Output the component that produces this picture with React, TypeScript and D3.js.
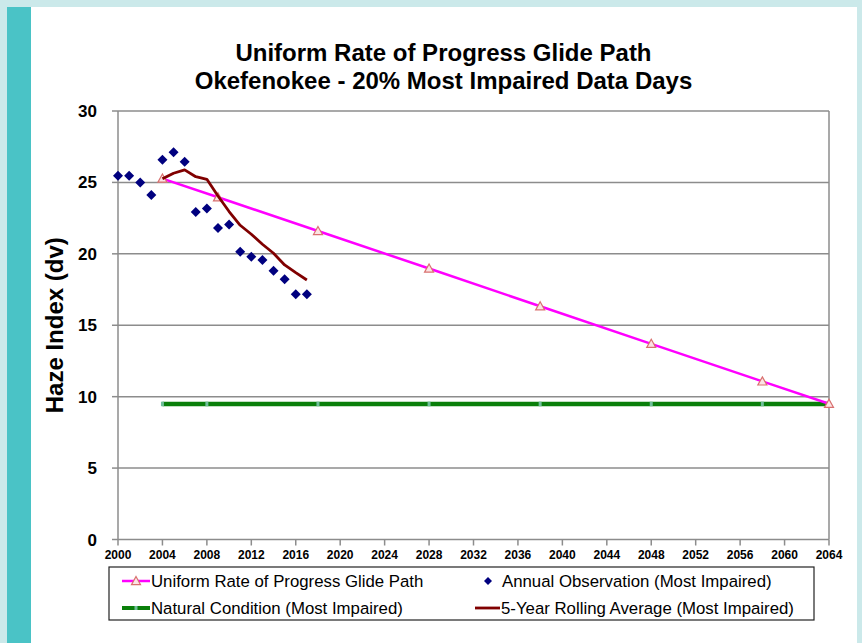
import React from "react";
import * as d3 from "d3";

const titleLines = ["Uniform Rate of Progress Glide Path", "Okefenokee - 20% Most Impaired Data Days"];
const yAxisLabel = "Haze Index (dv)";

const xTickLabels = [2000, 2004, 2008, 2012, 2016, 2020, 2024, 2028, 2032, 2036, 2040, 2044, 2048, 2052, 2056, 2060, 2064];
const yTickLabels = [0, 5, 10, 15, 20, 25, 30];

const obsYears = [2000, 2001, 2002, 2003, 2004, 2005, 2006, 2007, 2008, 2009, 2010, 2011, 2012, 2013, 2014, 2015, 2016, 2017];
const obsValues = [25.46, 25.46, 24.99, 24.12, 26.58, 27.12, 26.44, 22.93, 23.17, 21.81, 22.05, 20.15, 19.8, 19.57, 18.82, 18.22, 17.17, 17.17];

const rollYears = [2004, 2005, 2006, 2007, 2008, 2009, 2010, 2011, 2012, 2013, 2014, 2015, 2016, 2017];
const rollValues = [25.25, 25.64, 25.88, 25.4, 25.22, 24.05, 22.96, 22.0, 21.37, 20.67, 20.04, 19.22, 18.68, 18.17];

const glideYears = [2004, 2009, 2018, 2028, 2038, 2048, 2058, 2064];
const glideValues = [25.27, 23.96, 21.6, 18.97, 16.33, 13.7, 11.07, 9.5];

const naturalYears = [2004, 2008, 2018, 2028, 2038, 2048, 2058, 2064];
const naturalValues = [9.49, 9.49, 9.49, 9.49, 9.49, 9.49, 9.49, 9.49];

const legendLabels = [
  "Uniform Rate of Progress Glide Path",
  "Annual Observation (Most Impaired)",
  "Natural Condition (Most Impaired)",
  "5-Year Rolling Average (Most Impaired)",
];

const W = 862;
const H = 643;
const plot = { left: 118, right: 829, top: 111, bottom: 539.5 };

const FONT = "'Liberation Sans', Arial, sans-serif";
const MAGENTA = "#ff00ff";
const TRI = "#d9706f";
const NAVY = "#00007f";
const DARKRED = "#800000";
const GREEN = "#0a7f0a";
const GRID = "#8c8c8c";

function Triangle({ x, y }: { x: number; y: number }) {
  const s = 4.5;
  return (
    <path
      d={`M${x},${y - s} L${x + s},${y + s * 0.8} L${x - s},${y + s * 0.8} Z`}
      fill="#fbe4e4"
      stroke={TRI}
      strokeWidth={1.2}
    />
  );
}

function Diamond({ x, y, s = 5 }: { x: number; y: number; s?: number }) {
  return <path d={`M${x},${y - s} L${x + s},${y} L${x},${y + s} L${x - s},${y} Z`} fill={NAVY} />;
}

export default function App() {
  const x = d3.scaleLinear().domain([2000, 2064]).range([plot.left, plot.right]);
  const y = d3.scaleLinear().domain([0, 30]).range([plot.bottom, plot.top]);

  const line = d3
    .line<[number, number]>()
    .x((d) => x(d[0]))
    .y((d) => y(d[1]));

  const glide = glideYears.map((yr, i) => [yr, glideValues[i]] as [number, number]);
  const natural = naturalYears.map((yr, i) => [yr, naturalValues[i]] as [number, number]);
  const roll = rollYears.map((yr, i) => [yr, rollValues[i]] as [number, number]);
  const obs = obsYears.map((yr, i) => [yr, obsValues[i]] as [number, number]);

  const leg = { x0: 109, x1: 814, y0: 567, y1: 620 };
  const row1 = 581;
  const row2 = 608;

  return (
    <div style={{ position: "fixed", left: 0, top: 0, width: W, height: H }}>
      <svg width={W} height={H} style={{ display: "block" }}>
        <rect x={0} y={0} width={W} height={H} fill="#cbe9ea" />
        <rect x={7} y={7} width={24} height={H - 7} fill="#4ac3c6" />
        <rect x={31} y={7} width={826} height={H - 7} fill="#ffffff" />

        {/* title */}
        {titleLines.map((t, i) => (
          <text
            key={t}
            x={443.5}
            y={61 + i * 27.5}
            textAnchor="middle"
            fontFamily={FONT}
            fontWeight="bold"
            fontSize={24}
            fill="#000"
          >
            {t}
          </text>
        ))}

        {/* gridlines */}
        {yTickLabels.map((v) => (
          <line key={"g" + v} x1={plot.left} x2={plot.right} y1={y(v)} y2={y(v)} stroke={GRID} strokeWidth={1.5} />
        ))}
        <line x1={plot.right} x2={plot.right} y1={plot.top} y2={plot.bottom} stroke={GRID} strokeWidth={1.5} />
        <line x1={plot.left} x2={plot.left} y1={plot.top} y2={plot.bottom} stroke={GRID} strokeWidth={1.5} />

        {/* y ticks */}
        {yTickLabels.map((v) => (
          <g key={"yt" + v}>
            <line x1={plot.left - 6} x2={plot.left} y1={y(v)} y2={y(v)} stroke={GRID} strokeWidth={1.5} />
            <text
              x={97}
              y={y(v) + 6}
              textAnchor="end"
              fontFamily={FONT}
              fontWeight="bold"
              fontSize={17}
              fill="#000"
            >
              {v}
            </text>
          </g>
        ))}

        {/* x ticks */}
        {xTickLabels.map((v) => (
          <g key={"xt" + v}>
            <line x1={x(v)} x2={x(v)} y1={plot.bottom} y2={plot.bottom + 6} stroke={GRID} strokeWidth={1.5} />
            <text
              x={x(v)}
              y={559}
              textAnchor="middle"
              fontFamily={FONT}
              fontWeight="bold"
              fontSize={12}
              fill="#000"
            >
              {v}
            </text>
          </g>
        ))}

        {/* y axis label */}
        <text
          transform={`translate(63, ${(plot.top + plot.bottom) / 2}) rotate(-90)`}
          textAnchor="middle"
          fontFamily={FONT}
          fontWeight="bold"
          fontSize={24}
          fill="#000"
        >
          {yAxisLabel}
        </text>

        {/* natural condition */}
        <path d={line(natural) || ""} fill="none" stroke={GREEN} strokeWidth={4.5} />
        {natural.map((d, i) => (
          <rect key={"n" + i} x={x(d[0]) - 1.5} y={y(d[1]) - 2.25} width={3} height={4.5} fill="#6fbf9a" />
        ))}

        {/* glide path */}
        <path d={line(glide) || ""} fill="none" stroke={MAGENTA} strokeWidth={2.5} />
        {glide.map((d, i) => (
          <Triangle key={"t" + i} x={x(d[0])} y={y(d[1])} />
        ))}

        {/* rolling average */}
        <path d={line(roll) || ""} fill="none" stroke={DARKRED} strokeWidth={2.8} strokeLinejoin="round" />

        {/* observations */}
        {obs.map((d, i) => (
          <Diamond key={"o" + i} x={x(d[0])} y={y(d[1])} />
        ))}

        {/* legend */}
        <rect x={leg.x0} y={leg.y0} width={leg.x1 - leg.x0} height={leg.y1 - leg.y0} fill="#fff" stroke="#222" strokeWidth={1.2} />
        <line x1={122} x2={150} y1={row1} y2={row1} stroke={MAGENTA} strokeWidth={2.5} />
        <Triangle x={136} y={row1} />
        <text x={151} y={row1 + 5.5} fontFamily={FONT} fontSize={16.8} fill="#000">
          {legendLabels[0]}
        </text>

        <Diamond x={488} y={row1} s={4} />
        <text x={502} y={row1 + 5.5} fontFamily={FONT} fontSize={16.8} fill="#000">
          {legendLabels[1]}
        </text>

        <line x1={122} x2={150} y1={row2} y2={row2} stroke={GREEN} strokeWidth={4} />
        <rect x={134.5} y={row2 - 2} width={3} height={4} fill="#6fbf9a" />
        <text x={151} y={row2 + 5.5} fontFamily={FONT} fontSize={16.8} fill="#000">
          {legendLabels[2]}
        </text>

        <line x1={475} x2={500} y1={row2} y2={row2} stroke={DARKRED} strokeWidth={2.8} />
        <text x={501} y={row2 + 5.5} fontFamily={FONT} fontSize={16.8} fill="#000">
          {legendLabels[3]}
        </text>
      </svg>
    </div>
  );
}
